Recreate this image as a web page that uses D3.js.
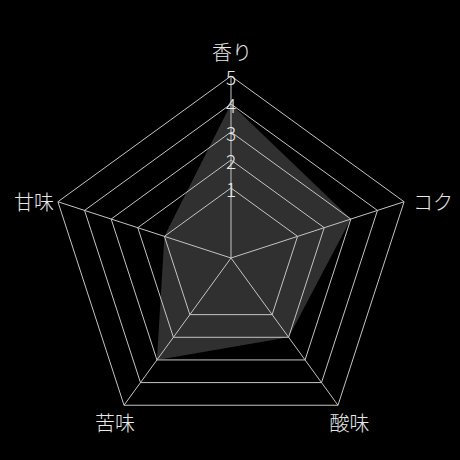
<!DOCTYPE html>
<html>
<head>
<meta charset="utf-8">
<script src="https://cdn.jsdelivr.net/npm/d3@7"></script>
<style>
  html, body { margin: 0; padding: 0; background: #000; }
  svg { display: block; }
  text { font-family: "Noto Sans CJK JP", "Noto Sans", sans-serif; }
</style>
</head>
<body>
<svg id="chart" width="460" height="460"></svg>
<script>
// Data
const categories = ["香り", "コク", "酸味", "苦味", "甘味"];
const values = [4, 3, 2, 3, 1];
const tickLabels = [1, 2, 3, 4, 5];
const scaleMin = -1.5;
const scaleMax = 5;

const W = 460, H = 460;
const cx = 231, cy = 258, R = 182;

const svg = d3.select("#chart");
svg.append("rect").attr("width", W).attr("height", H).attr("fill", "#000");

const g = svg.append("g").attr("transform", `translate(${cx},${cy})`);

const r = d3.scaleLinear().domain([scaleMin, scaleMax]).range([0, R]);
const angle = d3.scalePoint().domain(d3.range(categories.length + 1)).range([0, 2 * Math.PI]);
const ang = i => angle(i);

const radial = d3.lineRadial()
  .angle((d, i) => ang(i))
  .radius(d => r(d))
  .curve(d3.curveLinearClosed);

// data polygon
g.append("path")
  .datum(values)
  .attr("d", radial)
  .attr("fill", "rgba(255,255,255,0.19)")
  .attr("stroke", "none");

// grid rings
g.selectAll("path.ring")
  .data(tickLabels)
  .join("path")
  .attr("class", "ring")
  .attr("d", t => radial(categories.map(() => t)))
  .attr("fill", "none")
  .attr("stroke", "#c4c4c4")
  .attr("stroke-width", 1);

// angle lines
const px = (i, v) => r(v) * Math.sin(ang(i));
const py = (i, v) => -r(v) * Math.cos(ang(i));

g.selectAll("line.spoke")
  .data(categories)
  .join("line")
  .attr("class", "spoke")
  .attr("x1", 0).attr("y1", 0)
  .attr("x2", (d, i) => px(i, scaleMax))
  .attr("y2", (d, i) => py(i, scaleMax))
  .attr("stroke", "#c4c4c4")
  .attr("stroke-width", 1);

// tick labels along top axis
g.selectAll("text.tick")
  .data(tickLabels)
  .join("text")
  .attr("class", "tick")
  .attr("x", 0)
  .attr("y", t => -r(t))
  .attr("text-anchor", "middle")
  .attr("dominant-baseline", "central")
  .attr("font-size", 19)
  .attr("font-weight", 300)
  .attr("fill", "#e8e8e8")
  .text(t => t);

// point labels
g.selectAll("text.plabel")
  .data(categories)
  .join("text")
  .attr("class", "plabel")
  .each(function(d, i) {
    const a = ang(i);
    const s = Math.sin(a), c = -Math.cos(a);
    let x, y, anchor;
    if (Math.abs(s) < 0.1) {          // top
      x = px(i, scaleMax) + 1; y = py(i, scaleMax) - 25; anchor = "middle";
    } else if (c < 0.5 && c > -0.5) { // sides
      x = px(i, scaleMax) + (s > 0 ? 9 : -4); y = py(i, scaleMax) - 0.5; anchor = s > 0 ? "start" : "end";
    } else {                          // bottom
      x = px(i, scaleMax) + (s > 0 ? 11.5 : -9); y = py(i, scaleMax) + 17.5; anchor = "middle";
    }
    d3.select(this)
      .attr("x", x).attr("y", y)
      .attr("text-anchor", anchor)
      .attr("dominant-baseline", "central");
  })
  .attr("font-size", 20)
  .attr("font-weight", 300)
  .attr("fill", "#e8e8e8")
  .text(d => d);
</script>
</body>
</html>
